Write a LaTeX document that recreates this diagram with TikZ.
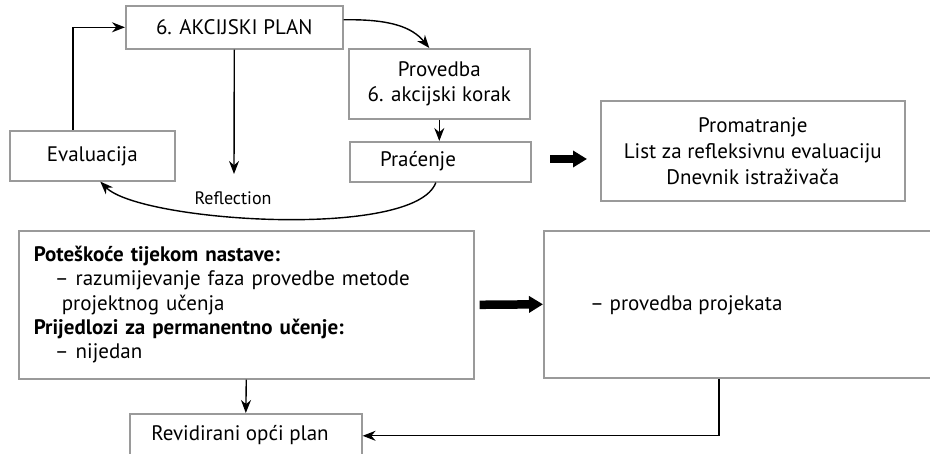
\documentclass[tikz,border=0pt]{standalone}
\usepackage{fontspec}
\setmainfont{PT Sans}
\usetikzlibrary{arrows.meta}
\definecolor{boxgray}{HTML}{9A9A9A}
\begin{document}
\begin{tikzpicture}[x=1pt,y=-1pt,
  box/.style={draw=boxgray, line width=1.6pt, anchor=north west, inner sep=0pt, align=center,
    font=\fontsize{21}{24.5}\selectfont},
  lbl/.style={inner sep=0pt, font=\fontsize{21}{24.5}\selectfont},
  arr/.style={-{Stealth[length=13pt,width=10pt]}, line width=1.4pt},
  fat/.style={-{Triangle[length=14pt,width=16pt]}, line width=8.5pt}]
\useasboundingbox (0,0) rectangle (930,454);

% boxes
\node[box, minimum width=217, minimum height=43] (plan) at (125,5) {6. AKCIJSKI PLAN};
\node[box, minimum width=165, minimum height=50] (eval) at (9,130) {Evaluacija};
\node[box, minimum width=181, minimum height=70] (prov) at (348,48) {Provedba\\6. akcijski korak};
\node[box, minimum width=181, minimum height=40] (prac) at (349,141) {};
\node[lbl] (pracT) at (418,161) {Praćenje};
\node[box, minimum width=304, minimum height=100, font=\fontsize{21}{26}\selectfont] (prom) at (600,100)
  {Promatranje\\List za refleksivnu evaluaciju\\Dnevnik istraživača};
\node[box, minimum width=455, minimum height=148, text width=425, align=left,
  font=\fontsize{21}{24.3}\selectfont] (pot) at (18,230)
  {\textbf{Poteškoće tijekom nastave:}\\
   \hspace*{21pt}– razumijevanje faza provedbe metode\\
   \hspace*{28pt}projektnog učenja\\
   \textbf{Prijedlozi za permanentno učenje:}\\
   \hspace*{21pt}– nijedan};
\node[box, minimum width=400, minimum height=147] (proj) at (543,230) {};
\node[lbl, anchor=west] (projT) at (590,305) {– provedba projekata};
\node[box, minimum width=232, minimum height=44] (rev) at (129,413) {};
\node[lbl] (revT) at (240,435) {Revidirani opći plan};
\node[lbl, font=\fontsize{18}{20}\selectfont] (refl) at (233,198) {Reflection};

% connectors
\coordinate (reflEnd) at (234,174);
\coordinate (fa1) at (550,159);
\coordinate (fa2) at (587,159);

\draw[arr] ([xshift=-19.5pt]eval.north) |- (plan.west);
\draw[arr] (plan.south) -- (reflEnd);
\draw[arr] ([yshift=7.5pt]plan.east) .. controls (390,19) and (412,27) .. ([xshift=-10pt]prov.north);
\draw[arr] (prov.south) -- (prov.south |- prac.north);
\draw[arr] ([xshift=-4.5pt]prac.south) .. controls (415,240) and (140,222) .. ([xshift=8pt]eval.south);
\draw[fat] (fa1) -- (fa2);
\draw[fat] ([xshift=5pt]pot.east) -- (proj.west);
\draw[arr] (pot.south) -- (rev.north);
\draw[arr] ([xshift=-25pt]proj.south) |- (rev.east);
\end{tikzpicture}
\end{document}
